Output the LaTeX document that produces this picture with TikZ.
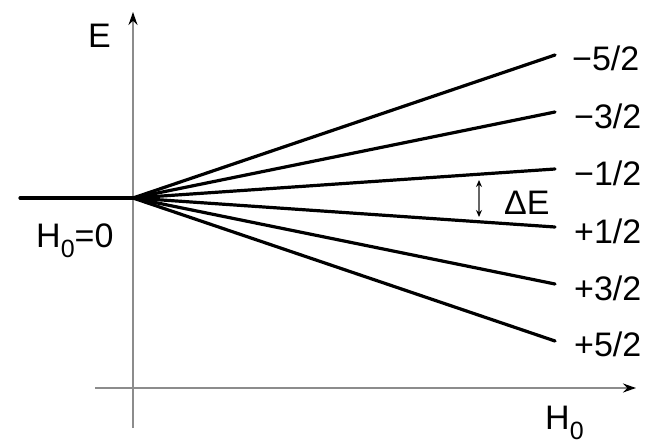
\documentclass[tikz,border=0pt]{standalone}
\usepackage{fontspec}
\setmainfont{Liberation Sans}
\usetikzlibrary{arrows.meta}
\newcommand{\lowsub}[1]{\raisebox{-0.32em}{\fontsize{25}{27}\selectfont #1}}
\begin{document}
\begin{tikzpicture}[x=1pt,y=-1pt,
  axis/.style={draw=black!45,line width=1.8pt,-{Stealth[length=13pt,width=9pt,black]}},
  level/.style={draw=black,line width=3.2pt,line cap=round},
  lbl/.style={inner sep=0pt,font=\fontsize{34}{36}\selectfont},
  num/.style={inner sep=0pt,anchor=west,font=\fontsize{34}{36}\selectfont},
  gap/.style={draw=black!60,line width=1.2pt,{Stealth[length=7pt,width=6pt,black]}-{Stealth[length=7pt,width=6pt,black]}}]
\useasboundingbox (0,0) rectangle (656,447);
% axes
\coordinate (vb) at (133,428);
\coordinate (vt) at (133,12);
\coordinate (hl) at (95,388);
\coordinate (hr) at (636,388);
\draw[axis] (vb) -- (vt);
\draw[axis] (hl) -- (hr);
% levels
\coordinate (o) at (133,198);
\coordinate (l0) at (20,198);
\coordinate (e1) at (555,55);
\coordinate (e2) at (555,112);
\coordinate (e3) at (555,169);
\coordinate (e4) at (555,227);
\coordinate (e5) at (555,284);
\coordinate (e6) at (555,341);
\draw[level] (l0) -- (o);
\foreach \i in {1,...,6} \draw[level] (o) -- (e\i);
% labels
\node[num] (n1) at (572,58) {−5/2};
\node[num] (n2) at (574,116) {−3/2};
\node[num] (n3) at (574,173) {−1/2};
\node[num] (n4) at (574,231) {+1/2};
\node[num] (n5) at (574,288) {+3/2};
\node[num] (n6) at (574,344) {+5/2};
\node[lbl,anchor=base west] (E) at (88,47) {E};
\node[lbl,anchor=base west] (H0) at (36,247) {H\lowsub{0}=0};
\node[lbl,anchor=base west] (H1) at (545,429) {H\lowsub{0}};
\node[lbl,anchor=base west] (dE) at (504,214) {ΔE};
% gap arrow
\coordinate (ga) at (479,180);
\coordinate (gb) at (479,217);
\draw[gap] (ga) -- (gb);
\end{tikzpicture}
\end{document}
